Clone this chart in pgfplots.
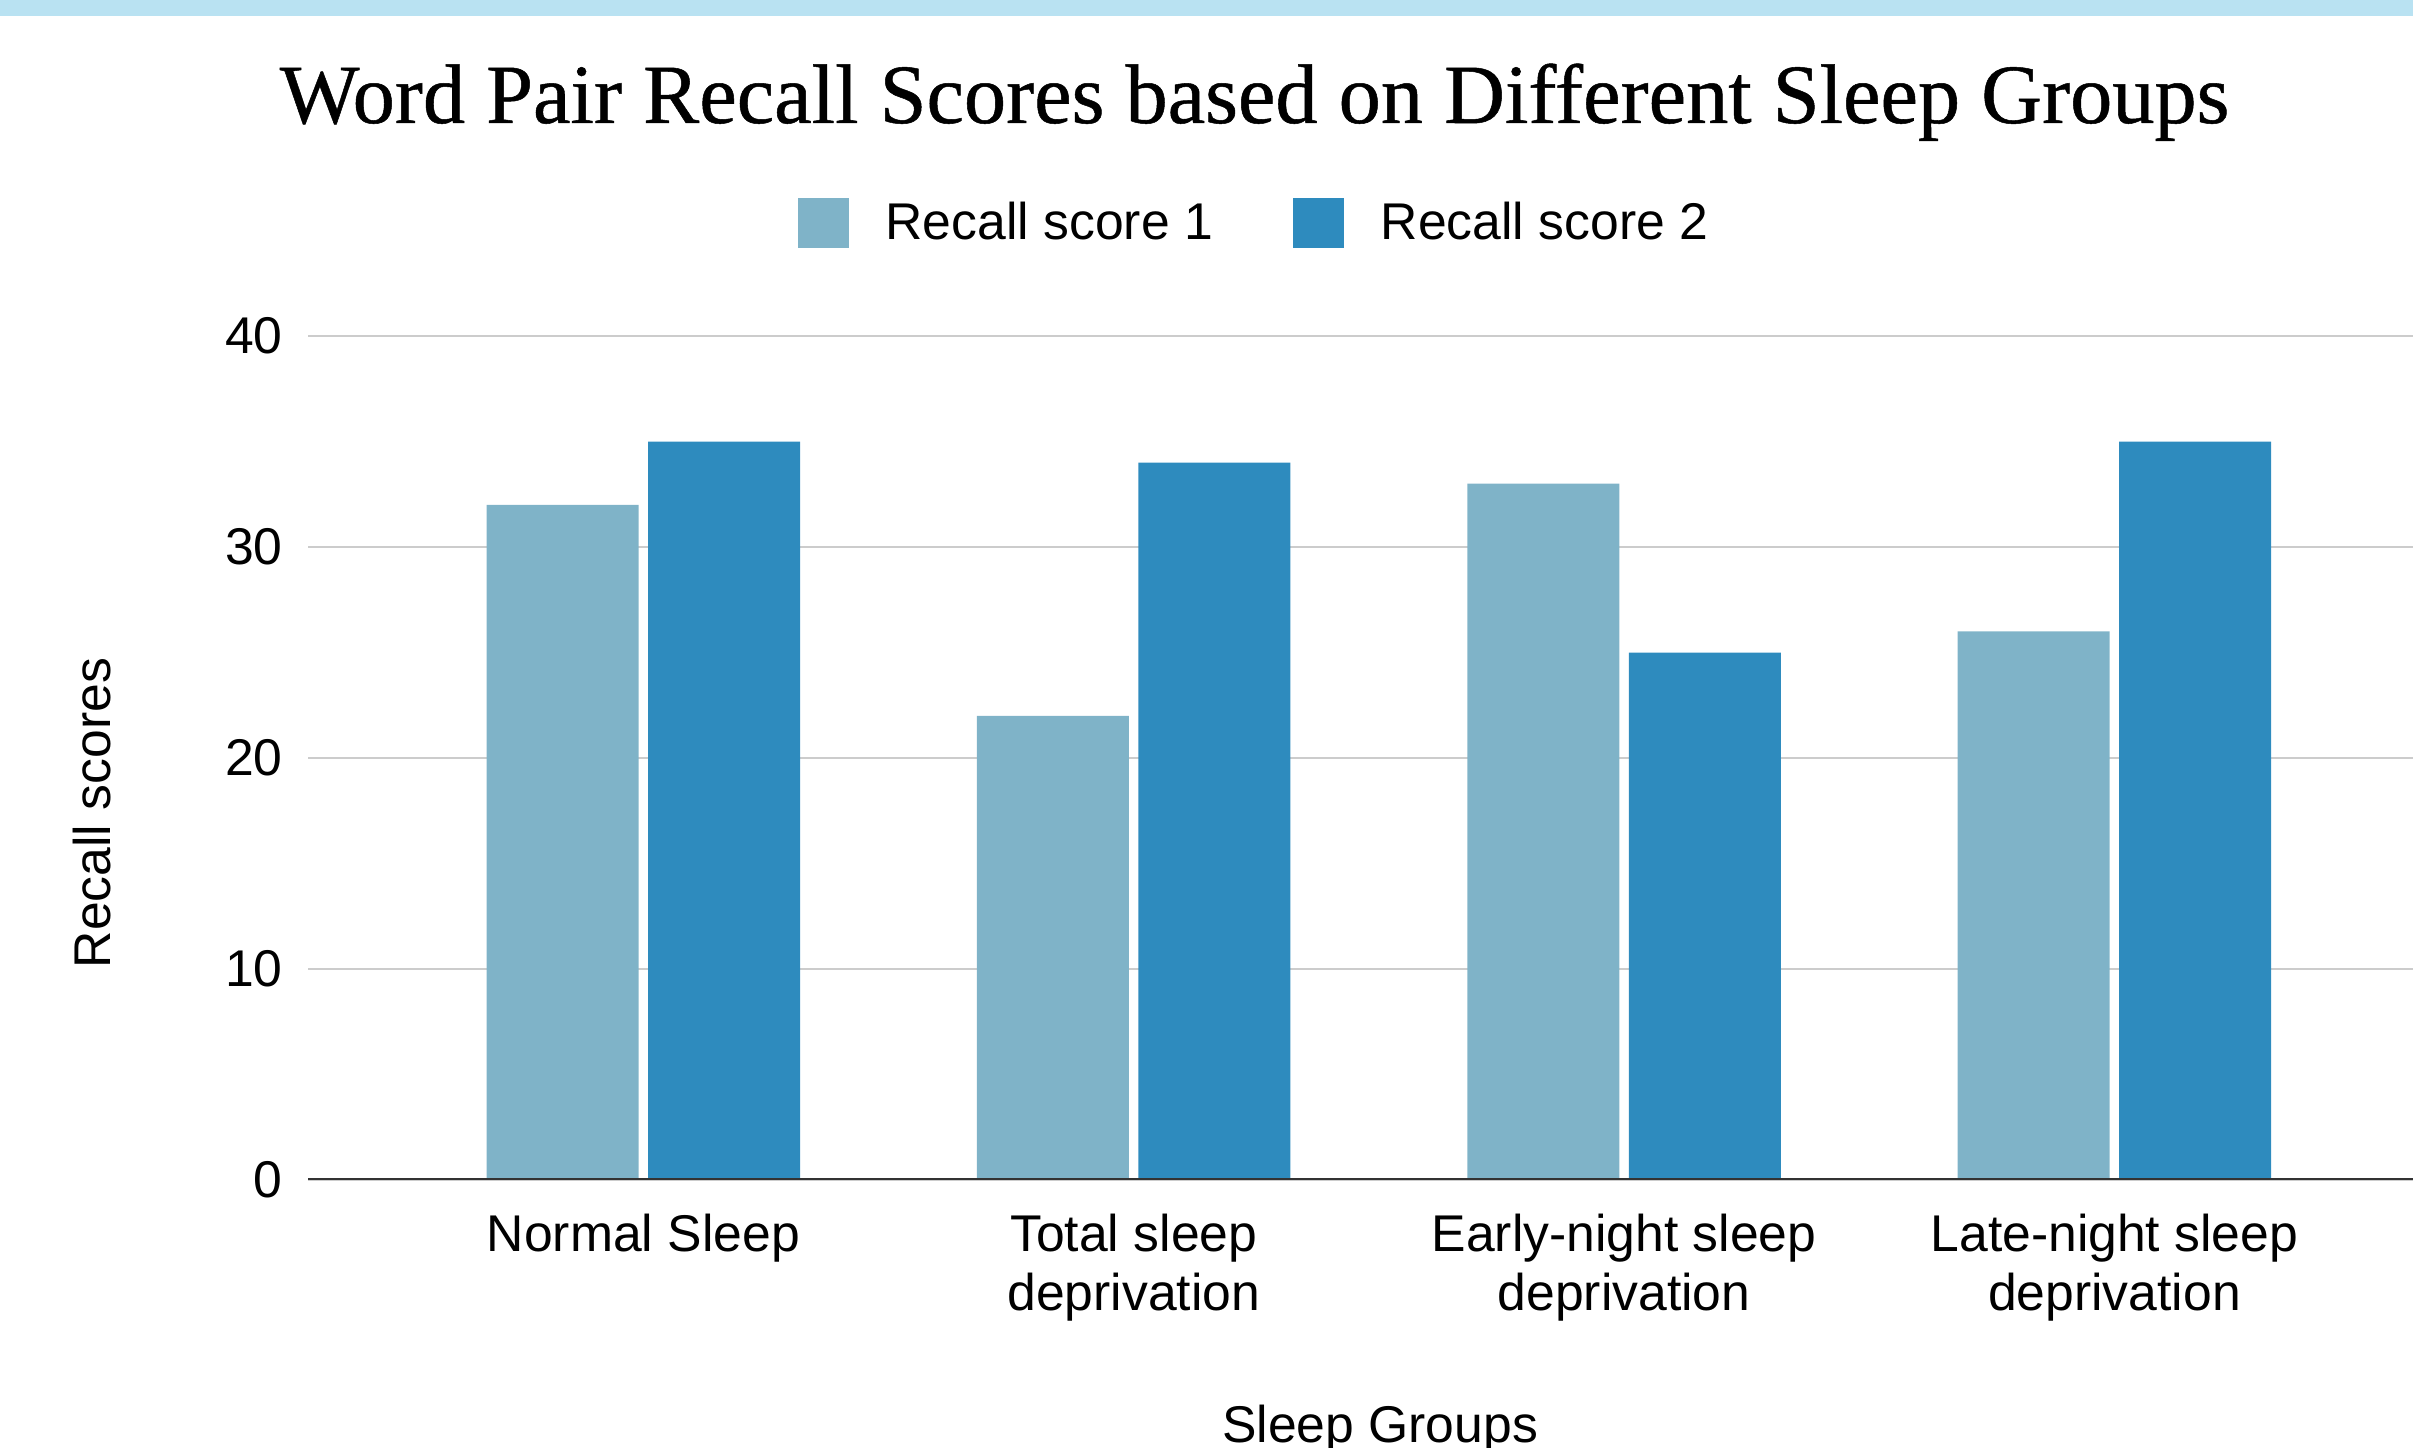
\documentclass[border=0pt]{standalone}
\usepackage{fontspec}
\setmainfont{Liberation Sans}
\newfontfamily\titlefont[FakeBold=0.6]{Liberation Serif}
\usepackage{pgfplots}
\pgfplotsset{compat=1.18}
\definecolor{cone}{RGB}{127,179,200}
\definecolor{ctwo}{RGB}{46,139,190}
\definecolor{gridgray}{RGB}{204,204,204}
\definecolor{axisdark}{RGB}{51,51,51}
\definecolor{band}{RGB}{185,226,242}
\begin{document}
\begin{tikzpicture}
\fill[band] (0bp,429.3bp) rectangle (723.9bp,434.1bp);
\begin{axis}[
  at={(92.4bp,80.1bp)}, anchor=south west,
  scale only axis, width=631.5bp, height=253.2bp,
  xmin=-0.684, xmax=3.609, ymin=0, ymax=40,
  xtick={0,1,2,3},
  xticklabels={Normal Sleep,{Total sleep\\deprivation},{Early-night sleep\\deprivation},{Late-night sleep\\deprivation}},
  ytick={0,10,20,30,40},
  /pgf/number format/assume math mode=true,
  axis line style={draw=none},
  major tick length=0pt,
  tick style={draw=none},
  ymajorgrids,
  major grid style={color=gridgray, line width=0.75bp},
  xticklabel style={align=center, inner sep=0pt, anchor=north, yshift=-9.9bp,
    font=\fontsize{15.5bp}{17.7bp}\selectfont},
  yticklabel style={inner sep=0pt, anchor=east, xshift=-7.4bp,
    font=\fontsize{15.5bp}{17.7bp}\selectfont},
  every axis title shift=0pt,
  title={Word Pair Recall Scores based on Different Sleep Groups},
  title style={at={(axis description cs:0.4497,1.2524)}, anchor=base, inner sep=0pt,
    font=\titlefont\fontsize{25.3bp}{30bp}\selectfont},
  xlabel={Sleep Groups},
  xlabel style={at={(axis description cs:0.5093,-0.3116)}, anchor=base, inner sep=0pt,
    font=\fontsize{15.5bp}{17.7bp}\selectfont},
  ylabel={Recall scores},
  ylabel style={at={(axis description cs:-0.09406,0.4348)}, anchor=base, inner sep=0pt,
    font=\fontsize{15.5bp}{17.7bp}\selectfont},
  legend columns=2,
  legend cell align=left,
  legend image code/.code={\draw[#1,draw=none] (0bp,-7.5bp) rectangle (15.3bp,7.5bp);},
  legend style={at={(axis description cs:0.4489,1.1339)}, anchor=center,
    draw=none, fill=none, inner sep=0pt, outer sep=0pt,
    nodes={inner sep=0pt, font=\fontsize{15.5bp}{17.7bp}\selectfont},
    /tikz/every odd column/.append style={column sep=11.1bp},
    /tikz/every even column/.append style={column sep=24bp}},
]
\addplot[ybar, bar width=0.31, bar shift=-0.1647, fill=cone, draw=none]
  coordinates {(0,32) (1,22) (2,33) (3,26)};
\addlegendentry{Recall score 1}
\addplot[ybar, bar width=0.31, bar shift=0.1647, fill=ctwo, draw=none]
  coordinates {(0,35) (1,34) (2,25) (3,35)};
\addlegendentry{Recall score 2}
\draw[axisdark, line width=1.2bp] (rel axis cs:0,0) -- (rel axis cs:1,0);
\end{axis}
\pgfresetboundingbox
\useasboundingbox (0bp,0bp) rectangle (723.9bp,434.1bp);
\end{tikzpicture}
\end{document}
